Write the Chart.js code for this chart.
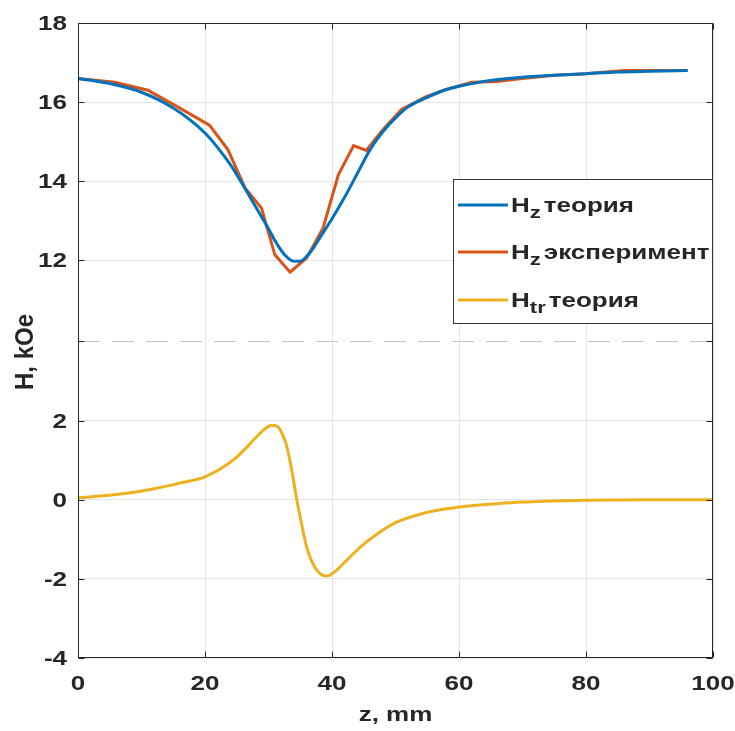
<!DOCTYPE html>
<html>
<head>
    <title>H(z)</title>
    <style>
        body { margin: 0; background: #fff; }
        #chart-container { width: 735px; height: 731px; }
    </style>
</head>
<body>
    <div id="chart-container">
        <canvas id="myChart" width="735" height="731"></canvas>
    </div>

    <script src="https://cdn.jsdelivr.net/npm/chart.js"></script>
    <script>
        // z positions (mm) and field values (kOe)
        const zTheory = [0, 5, 10, 15, 20, 22, 24, 26, 28, 30, 31, 32, 33, 34, 35, 36, 37, 38, 40, 42, 44, 46, 48, 50, 52, 55, 58, 60, 65, 70, 75, 80, 85, 90, 96];
        const hzTheory = [16.6, 16.47, 16.25, 15.85, 15.22, 14.85, 14.42, 13.9, 13.35, 12.8, 12.5, 12.25, 12.07, 11.98, 11.98, 12.1, 12.3, 12.55, 13.05, 13.6, 14.2, 14.8, 15.25, 15.6, 15.88, 16.12, 16.32, 16.4, 16.55, 16.63, 16.68, 16.72, 16.76, 16.78, 16.8];

        const zExp = [0, 5.8, 11, 15.5, 20.7, 23.6, 26.3, 28.9, 31, 33.4, 36, 38.6, 41, 43.4, 45.4, 48, 51, 55, 58, 62, 66, 70, 75, 80, 86, 91, 96];
        const hzExp = [16.6, 16.5, 16.3, 15.9, 15.42, 14.8, 13.83, 13.32, 12.14, 11.7, 12.06, 12.82, 14.16, 14.9, 14.78, 15.3, 15.82, 16.15, 16.32, 16.5, 16.52, 16.6, 16.68, 16.72, 16.8, 16.8, 16.8];

        const zTr = [0, 4, 8, 12, 16, 20, 23, 25, 27, 28.5, 29.5, 30.5, 31.3, 32, 32.8, 33.6, 34.4, 35.2, 36, 36.8, 37.6, 38.4, 39.2, 40, 41, 42.5, 44.5, 47, 50, 54, 58, 62, 66, 70, 75, 80, 90, 100];
        const hTr = [0.05, 0.1, 0.17, 0.28, 0.42, 0.58, 0.84, 1.08, 1.4, 1.65, 1.8, 1.88, 1.86, 1.72, 1.4, 0.8, 0.05, -0.6, -1.19, -1.55, -1.78, -1.9, -1.93, -1.87, -1.74, -1.5, -1.19, -0.88, -0.58, -0.36, -0.23, -0.15, -0.1, -0.06, -0.03, -0.01, 0, 0];

        const xTicks = [0, 20, 40, 60, 80, 100];
        const yTicksLow = [-4, -2, 0, 2];
        const yTicksHigh = [12, 14, 16, 18];
        const yBreak = 4;

        const seriesNames = ['теория', 'эксперимент', 'теория'];
        const seriesSubs = ['z', 'z', 'tr'];
        const seriesColors = ['#0072BD', '#D95319', '#EDB120'];

        // the upper part of the broken axis is shifted down by this much
        const SHIFT = 5.95;

        function pairs(xs, ys, shift) {
            return xs.map((x, i) => ({ x: x, y: ys[i] - shift }));
        }

        const yPositions = yTicksLow.concat([yBreak], yTicksHigh.map(v => v - SHIFT));

        const TXT = '#262626';
        const STRETCH = 1.3;

        function drawText(ctx, text, x, y, align, font) {
            ctx.save();
            ctx.font = font;
            ctx.fillStyle = TXT;
            ctx.textBaseline = 'alphabetic';
            ctx.translate(x, y);
            ctx.scale(STRETCH, 1);
            ctx.textAlign = align;
            ctx.fillText(text, 0, 0);
            ctx.restore();
        }

        function textWidth(ctx, text, font) {
            ctx.save();
            ctx.font = font;
            const w = ctx.measureText(text).width * STRETCH;
            ctx.restore();
            return w;
        }

        const matlabAxes = {
            id: 'matlabAxes',
            beforeDatasetsDraw(chart) {
                // dashed line where the axis is broken
                const { ctx, chartArea: a } = chart;
                const y = Math.round(chart.scales.y.getPixelForValue(yBreak)) + 0.5;
                ctx.save();
                ctx.strokeStyle = '#c4c4c4';
                ctx.lineWidth = 1;
                ctx.setLineDash([22, 12]);
                ctx.beginPath();
                ctx.moveTo(a.left, y);
                ctx.lineTo(a.right, y);
                ctx.stroke();
                ctx.restore();
            },
            afterDatasetsDraw(chart) {
                const { ctx, chartArea: a } = chart;
                const xs = chart.scales.x, ys = chart.scales.y;
                const L = a.left + 0.5, R = a.right - 0.5, T = a.top + 0.5, B = a.bottom - 0.5;

                ctx.save();
                ctx.strokeStyle = '#262626';
                ctx.lineWidth = 1;
                ctx.strokeRect(L, T, R - L, B - T);

                // inward ticks on all four sides
                ctx.beginPath();
                xTicks.forEach(v => {
                    const x = Math.round(xs.getPixelForValue(v)) + 0.5;
                    ctx.moveTo(x, B); ctx.lineTo(x, B - 6);
                    ctx.moveTo(x, T); ctx.lineTo(x, T + 6);
                });
                yPositions.forEach(v => {
                    const y = Math.round(ys.getPixelForValue(v)) + 0.5;
                    ctx.moveTo(L, y); ctx.lineTo(L + 6, y);
                    ctx.moveTo(R, y); ctx.lineTo(R - 6, y);
                });
                ctx.stroke();
                ctx.restore();

                const tickFont = 'bold 20px "Liberation Sans"';
                xTicks.forEach(v => {
                    drawText(ctx, String(v), xs.getPixelForValue(v), 690, 'center', tickFont);
                });
                yTicksLow.forEach(v => {
                    drawText(ctx, String(v), 67, ys.getPixelForValue(v) + 7, 'right', tickFont);
                });
                yTicksHigh.forEach(v => {
                    drawText(ctx, String(v), 67, ys.getPixelForValue(v - SHIFT) + 7, 'right', tickFont);
                });

                // axis titles
                drawText(ctx, 'z, mm', (a.left + a.right) / 2, 721, 'center', 'bold 20px "Liberation Sans"');
                ctx.save();
                ctx.font = 'bold 24px "Liberation Sans"';
                ctx.fillStyle = TXT;
                ctx.translate(33, 352);
                ctx.rotate(-Math.PI / 2);
                ctx.scale(1, 1.1);
                ctx.textAlign = 'center';
                ctx.fillText('H, kOe', 0, 0);
                ctx.restore();
            },
            afterDraw(chart) {
                // legend box with subscripts
                const { ctx } = chart;
                const box = { l: 453.5, t: 179.5, r: 712.5, b: 323.5 };
                ctx.save();
                ctx.fillStyle = '#fff';
                ctx.fillRect(box.l, box.t, box.r - box.l, box.b - box.t);
                ctx.strokeStyle = '#333';
                ctx.lineWidth = 1;
                ctx.strokeRect(box.l, box.t, box.r - box.l, box.b - box.t);
                ctx.restore();

                const rows = [205, 252, 300];
                const bigFont = 'bold 20px "Liberation Sans"';
                const subFont = 'bold 17px "Liberation Sans"';
                rows.forEach((y, i) => {
                    ctx.save();
                    ctx.strokeStyle = seriesColors[i];
                    ctx.lineWidth = 3;
                    ctx.beginPath();
                    ctx.moveTo(458, y);
                    ctx.lineTo(508, y);
                    ctx.stroke();
                    ctx.restore();

                    let x = 511;
                    drawText(ctx, 'H', x, y + 7, 'left', bigFont);
                    x += textWidth(ctx, 'H', bigFont);
                    drawText(ctx, seriesSubs[i], x, y + 13, 'left', subFont);
                    x += textWidth(ctx, seriesSubs[i], subFont) + 3;
                    drawText(ctx, seriesNames[i], x, y + 7, 'left', bigFont);
                });
            }
        };

        const gridColor = '#e4e4e4';

        const ctx = document.getElementById('myChart').getContext('2d');
        const myChart = new Chart(ctx, {
            type: 'line',
            data: {
                datasets: [
                    {
                        label: 'Hz теория',
                        data: pairs(zTheory, hzTheory, SHIFT),
                        borderColor: seriesColors[0],
                        borderWidth: 3,
                        pointRadius: 0,
                        cubicInterpolationMode: 'monotone',
                        fill: false
                    },
                    {
                        label: 'Hz эксперимент',
                        data: pairs(zExp, hzExp, SHIFT),
                        borderColor: seriesColors[1],
                        borderWidth: 3,
                        pointRadius: 0,
                        tension: 0,
                        fill: false
                    },
                    {
                        label: 'Htr теория',
                        data: pairs(zTr, hTr, 0),
                        borderColor: seriesColors[2],
                        borderWidth: 3,
                        pointRadius: 0,
                        cubicInterpolationMode: 'monotone',
                        fill: false
                    }
                ]
            },
            options: {
                responsive: false,
                animation: false,
                devicePixelRatio: 1,
                layout: { padding: { left: 78, top: 23, right: 22, bottom: 73 } },
                plugins: {
                    legend: { display: false },
                    tooltip: { enabled: false }
                },
                scales: {
                    x: {
                        type: 'linear',
                        min: 0,
                        max: 100,
                        ticks: { display: false, stepSize: 20 },
                        grid: { color: gridColor, drawTicks: false },
                        border: { display: false }
                    },
                    y: {
                        type: 'linear',
                        min: -4,
                        max: 18 - SHIFT,
                        afterBuildTicks: scale => {
                            scale.ticks = yPositions.map(v => ({ value: v }));
                        },
                        ticks: { display: false },
                        grid: {
                            color: c => (c.tick && Math.abs(c.tick.value - yBreak) < 1e-6) ? 'rgba(0,0,0,0)' : gridColor,
                            drawTicks: false
                        },
                        border: { display: false }
                    }
                }
            },
            plugins: [matlabAxes]
        });
    </script>
</body>
</html>
